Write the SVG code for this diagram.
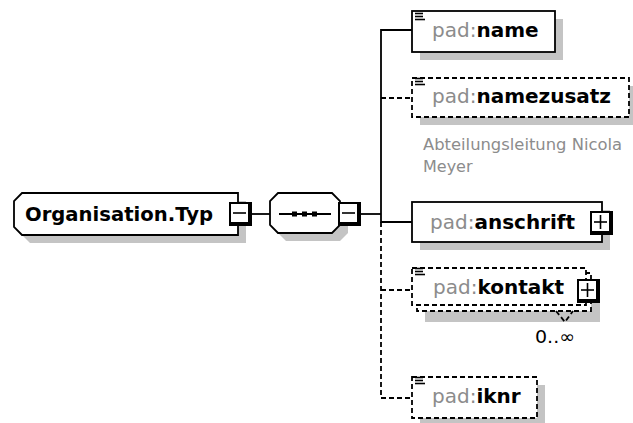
<svg xmlns="http://www.w3.org/2000/svg" width="633" height="423" viewBox="0 0 633 423">
<style>
.bx{fill:#fff;stroke:#000;stroke-width:1.8}
.dbx{fill:#fff;stroke:#000;stroke-width:1.8;stroke-dasharray:5 3}
.sh{fill:#c4c4c4}
.ln{stroke:#000;stroke-width:1.8;fill:none}
.dl{stroke:#000;stroke-width:1.8;fill:none;stroke-dasharray:5 3}
.t{font-family:"DejaVu Sans",Verdana,sans-serif;font-size:20px}
.pre{fill:#8c8c8c}
.nm{fill:#000;font-weight:bold}
.ann{font-family:"DejaVu Sans",Verdana,sans-serif;font-size:16px;fill:#8c8c8c}
.ic{stroke:#000;stroke-width:1.6}
</style>
<defs>
<g id="minus"><rect x="0" y="0" width="23" height="24" fill="#000"/><rect x="2" y="2" width="17" height="18" fill="#fff"/><line x1="4" y1="11" x2="17" y2="11" stroke="#000" stroke-width="1.6"/></g>
<g id="plus"><rect x="0" y="0" width="23" height="24" fill="#000"/><rect x="2" y="2" width="17" height="18" fill="#fff"/><line x1="4" y1="11" x2="17" y2="11" stroke="#000" stroke-width="1.6"/><line x1="10.5" y1="4" x2="10.5" y2="18" stroke="#000" stroke-width="1.6"/></g>
<g id="icon"><line class="ic" x1="415" y1="13.5" x2="423" y2="13.5"/><line class="ic" x1="415" y1="16.5" x2="423" y2="16.5"/><line class="ic" x1="415" y1="19.5" x2="425" y2="19.5"/></g>
</defs>
<rect width="633" height="423" fill="#fff"/>

<g id="connectors">
<line class="ln" x1="252" y1="214" x2="270" y2="214"/>
<line class="ln" x1="361" y1="214" x2="381" y2="214"/>
<polyline class="ln" points="412,30 381,30 381,222 412,222"/>
<line class="dl" x1="381" y1="98" x2="412" y2="98"/>
<polyline class="dl" points="381,222 381,398 412,398"/>
<line class="dl" x1="381" y1="290" x2="412" y2="290"/>
</g>

<g id="organisation">
<polygon class="sh" points="30,201 246,201 246,243 30,243 22,235 22,209"/>
<polygon class="bx" points="22,193 238,193 238,235 22,235 14,227 14,201"/>
<text class="t nm" x="25" y="221" textLength="188" lengthAdjust="spacingAndGlyphs">Organisation.Typ</text>
<use href="#minus" x="229" y="202"/>
</g>

<g id="sequence">
<polygon class="sh" points="286,201 340,201 348,209 348,233 340,241 286,241 278,233 278,209"/>
<polygon class="bx" points="278,193 332,193 340,201 340,225 332,233 278,233 270,225 270,201"/>
<line class="ln" x1="279" y1="214" x2="331" y2="214"/>
<rect x="292" y="211.5" width="5" height="5" fill="#000"/>
<rect x="302" y="211.5" width="5" height="5" fill="#000"/>
<rect x="312" y="211.5" width="5" height="5" fill="#000"/>
<use href="#minus" x="338" y="202"/>
</g>

<g id="name">
<rect class="sh" x="420" y="19" width="143" height="41"/>
<rect class="bx" x="412" y="11" width="143" height="41"/>
<use href="#icon"/>
<text class="t" x="432" y="37"><tspan class="pre">pad:</tspan><tspan class="nm">name</tspan></text>
</g>

<g id="namezusatz">
<rect class="sh" x="420" y="86" width="217" height="39"/>
<rect class="dbx" x="412" y="78" width="217" height="39"/>
<use href="#icon" y="65"/>
<text class="t" x="432" y="103"><tspan class="pre">pad:</tspan><tspan class="nm">namezusatz</tspan></text>
<text class="ann" x="423" y="150" textLength="199" lengthAdjust="spacingAndGlyphs">Abteilungsleitung Nicola</text>
<text class="ann" x="423" y="172">Meyer</text>
</g>

<g id="anschrift">
<rect class="sh" x="420" y="210" width="190" height="40"/>
<rect class="bx" x="412" y="202" width="190" height="40"/>
<text class="t" x="430" y="229"><tspan class="pre">pad:</tspan><tspan class="nm">anschrift</tspan></text>
<use href="#plus" x="590" y="211"/>
</g>

<g id="kontakt">
<rect class="sh" x="425" y="281" width="175" height="41"/>
<rect class="dbx" x="417" y="273" width="174" height="38"/>
<rect class="dbx" x="412" y="268" width="174" height="37"/>
<use href="#icon" y="255"/>
<polyline class="dl" points="556,311 565,322 573,311" stroke-width="1.2"/>
<text class="t" x="433" y="294"><tspan class="pre">pad:</tspan><tspan class="nm">kontakt</tspan></text>
<use href="#plus" x="577" y="279"/>
<text x="535" y="343" font-family="DejaVu Sans, Verdana, sans-serif" font-size="18" fill="#000" textLength="40" lengthAdjust="spacingAndGlyphs">0..∞</text>
</g>

<g id="iknr">
<rect class="sh" x="420" y="385" width="125" height="41"/>
<rect class="dbx" x="412" y="377" width="125" height="41"/>
<use href="#icon" y="364"/>
<text class="t" x="432" y="403"><tspan class="pre">pad:</tspan><tspan class="nm">iknr</tspan></text>
</g>
</svg>
